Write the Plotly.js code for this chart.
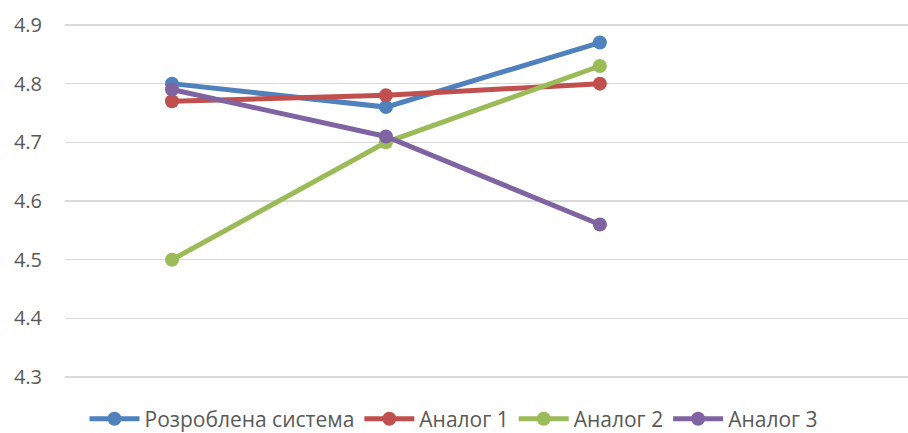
<!DOCTYPE html>
<html><head><meta charset="utf-8">
<script src="https://cdn.plot.ly/plotly-3.0.1.min.js"></script>
<style>html,body{margin:0;padding:0;background:#fff}#chart{width:908px;height:433px}</style>
</head><body><div id="chart"></div>
<script>
const categories = ["1", "2", "3"];
const seriesNames = ["Розроблена система", "Аналог 1", "Аналог 2", "Аналог 3"];
const developed = [4.80, 4.76, 4.87];
const analog1 = [4.77, 4.78, 4.80];
const analog2 = [4.50, 4.70, 4.83];
const analog3 = [4.79, 4.71, 4.56];
const yTicks = [4.3, 4.4, 4.5, 4.6, 4.7, 4.8, 4.9];
const colors = ["#4F81BD", "#C0504D", "#9BBB59", "#8064A2"];
const values = [developed, analog1, analog2, analog3];

const traces = values.map((v, i) => ({
  x: categories, y: v, type: "scatter", mode: "lines+markers",
  name: seriesNames[i],
  line: {color: colors[i], width: 5},
  marker: {color: colors[i], size: 14}
}));

const layout = {
  width: 908, height: 433,
  margin: {l: 65, r: 0, t: 22, b: 50},
  paper_bgcolor: "#fff", plot_bgcolor: "#fff",
  font: {family: "Open Sans, sans-serif", size: 20, color: "#595959"},
  showlegend: true,
  legend: {orientation: "h", x: 0.5, xanchor: "center", xref: "container",
           y: 0.032, yanchor: "middle", yref: "container",
           font: {family: "Open Sans, sans-serif", size: 21, color: "#595959"},
           itemwidth: 50, traceorder: "normal"},
  xaxis: {type: "category", range: [-0.5, 3.44], showticklabels: false, showgrid: false,
          zeroline: false, showline: false, ticks: ""},
  yaxis: {range: [4.29, 4.905], tickvals: yTicks, ticktext: yTicks.map(t => t.toFixed(1)),
          tickfont: {family: "Open Sans, sans-serif", size: 20, color: "#595959"},
          showgrid: true, gridcolor: "#D9D9D9", gridwidth: 1.5, zeroline: false,
          showline: false, ticks: "", ticklabelstandoff: 22}
};
Plotly.newPlot("chart", traces, layout, {displayModeBar: false, staticPlot: true});
</script></body></html>
